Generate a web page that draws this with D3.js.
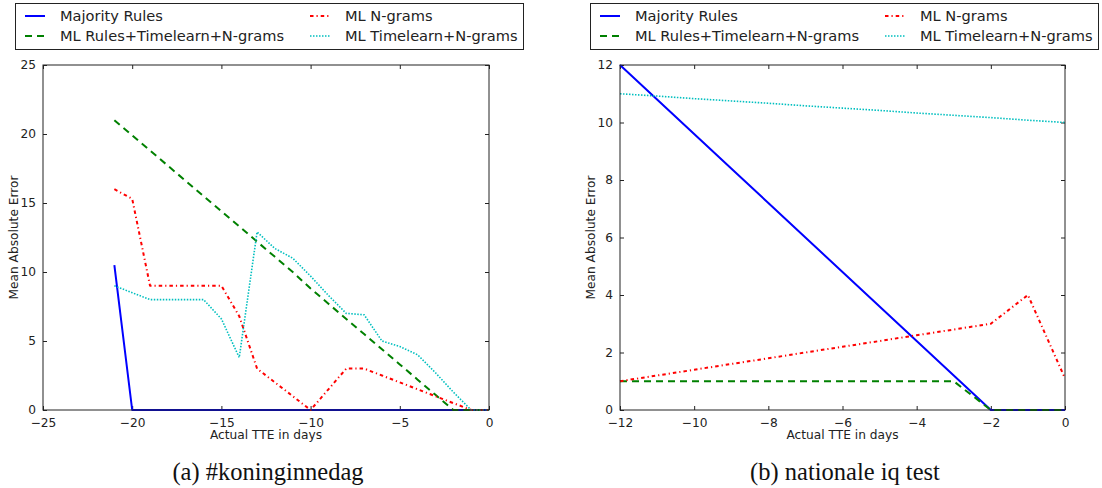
<!DOCTYPE html>
<html>
<head>
<meta charset="utf-8">
<script src="https://cdn.jsdelivr.net/npm/d3@7"></script>
<style>
  body { margin: 0; background: #fff; }
  svg { display: block; font-family: "DejaVu Sans", sans-serif; }
</style>
</head>
<body>
<div id="chart"></div>
<script>
// Series names (legend order)
const seriesNames = ["Majority Rules", "ML Rules+Timelearn+N-grams", "ML N-grams", "ML Timelearn+N-grams"];

// Panel (a) #koninginnedag
const leftDays = [-21, -20, -19, -18, -17, -16, -15, -14, -13, -12, -11, -10, -9, -8, -7, -6, -5, -4, -3, -2, -1, 0];
const leftMajority = [10.5, 0, 0, 0, 0, 0, 0, 0, 0, 0, 0, 0, 0, 0, 0, 0, 0, 0, 0, 0, 0, 0];
const leftRulesTime = [21, 19.9, 18.8, 17.7, 16.6, 15.5, 14.4, 13.3, 12.2, 11.1, 10, 8.8, 7.7, 6.6, 5.5, 4.4, 3.3, 2.2, 1.1, 0, 0, 0];
const leftNgrams = [16, 15.3, 9, 9, 9, 9, 9, 6.8, 3, 2, 1, 0, 1.5, 3, 3, 2.5, 2, 1.5, 1, 0.5, 0, 0];
const leftTimelearn = [9, 8.5, 8, 8, 8, 8, 6.6, 3.8, 12.9, 11.7, 11, 9.7, 8.3, 7, 6.9, 5, 4.6, 4, 2.7, 1.3, 0, 0];
const leftXTicks = [-25, -20, -15, -10, -5, 0];
const leftYTicks = [0, 5, 10, 15, 20, 25];

// Panel (b) nationale iq test
const rightDays = [-12, -11, -10, -9, -8, -7, -6, -5, -4, -3, -2, -1, 0];
const rightMajority = [12, 10.8, 9.6, 8.4, 7.2, 6, 4.8, 3.6, 2.4, 1.2, 0, 0, 0];
const rightRulesTime = [1, 1, 1, 1, 1, 1, 1, 1, 1, 1, 0, 0, 0];
const rightNgrams = [1, 1.2, 1.4, 1.6, 1.8, 2, 2.2, 2.4, 2.6, 2.8, 3, 4, 1.1];
const rightTimelearn = [11, 10.92, 10.83, 10.75, 10.67, 10.58, 10.5, 10.42, 10.33, 10.25, 10.17, 10.08, 10];
const rightXTicks = [-12, -10, -8, -6, -4, -2, 0];
const rightYTicks = [0, 2, 4, 6, 8, 10, 12];

// Line styles, matplotlib classic colours
const styles = [
  { color: "#0000ff", dash: null, width: 2 },
  { color: "#008000", dash: "7,5", width: 2 },
  { color: "#ff0000", dash: "3.5,3,1.2,3", width: 2 },
  { color: "#00bfbf", dash: "1.5,1.5", width: 1.6 }
];

const width = 1102;
const height = 488;

const svg = d3.select("#chart")
  .append("svg")
  .attr("width", width)
  .attr("height", height);

function drawPanel(p) {
  const g = svg.append("g");

  const x = d3.scaleLinear().domain(p.xDomain).range([p.left, p.right]);
  const y = d3.scaleLinear().domain(p.yDomain).range([p.bottom, p.top]);

  // Tick marks inside on all four sides
  g.append("g")
    .attr("transform", `translate(0,${p.bottom})`)
    .call(d3.axisBottom(x).tickValues(p.xTicks).tickSize(-4).tickPadding(8).tickFormat(d3.format("d")))
    .call(s => s.select(".domain").remove());
  g.append("g")
    .attr("transform", `translate(0,${p.top})`)
    .call(d3.axisTop(x).tickValues(p.xTicks).tickSize(-4).tickFormat(""))
    .call(s => s.select(".domain").remove());
  g.append("g")
    .attr("transform", `translate(${p.left},0)`)
    .call(d3.axisLeft(y).tickValues(p.yTicks).tickSize(-4).tickPadding(7).tickFormat(d3.format("d")))
    .call(s => s.select(".domain").remove());
  g.append("g")
    .attr("transform", `translate(${p.right},0)`)
    .call(d3.axisRight(y).tickValues(p.yTicks).tickSize(-4).tickFormat(""))
    .call(s => s.select(".domain").remove());

  g.selectAll(".tick line").attr("stroke", "#222");
  g.selectAll(".tick text")
    .attr("fill", "#222")
    .style("font-size", "12.2px")
    .style("font-family", "DejaVu Sans, sans-serif");

  // Lines
  const line = d3.line()
    .x((d, i) => x(p.days[i]))
    .y(d => y(d));

  p.series.forEach(function(vals, k) {
    g.append("path")
      .datum(vals)
      .attr("d", line)
      .attr("fill", "none")
      .attr("stroke", styles[k].color)
      .attr("stroke-width", styles[k].width)
      .attr("stroke-dasharray", styles[k].dash)
      .attr("stroke-linejoin", "round");
  });

  // Frame
  g.append("rect")
    .attr("x", p.left)
    .attr("y", p.top)
    .attr("width", p.right - p.left)
    .attr("height", p.bottom - p.top)
    .attr("fill", "none")
    .attr("stroke", "#222")
    .attr("stroke-width", 1);

  // Axis labels
  g.append("text")
    .attr("x", (p.left + p.right) / 2)
    .attr("y", p.bottom + 29)
    .attr("text-anchor", "middle")
    .style("font-size", "12.2px")
    .attr("fill", "#222")
    .text("Actual TTE in days");

  g.append("text")
    .attr("transform", `translate(${p.left - 25},${(p.top + p.bottom) / 2}) rotate(-90)`)
    .attr("text-anchor", "middle")
    .style("font-size", "12.2px")
    .attr("fill", "#222")
    .text("Mean Absolute Error");

  // Legend box above the axes
  const lg = g.append("g").attr("transform", `translate(${p.legendX},3)`);
  lg.append("rect")
    .attr("x", 0.5)
    .attr("y", 0.5)
    .attr("width", 508)
    .attr("height", 46)
    .attr("fill", "#fff")
    .attr("stroke", "#222");

  const cols = [0, 0, 1, 1];
  const rows = [0, 1, 0, 1];
  seriesNames.forEach(function(name, k) {
    const cx = 10 + cols[k] * 285;
    const cy = 13 + rows[k] * 20;
    lg.append("line")
      .attr("x1", cx)
      .attr("x2", cx + 20)
      .attr("y1", cy)
      .attr("y2", cy)
      .attr("stroke", styles[k].color)
      .attr("stroke-width", styles[k].width)
      .attr("stroke-dasharray", styles[k].dash);
    lg.append("text")
      .attr("x", cx + 35)
      .attr("y", cy)
      .attr("dy", "0.35em")
      .style("font-size", "14.6px")
      .attr("fill", "#222")
      .text(name);
  });

  // Caption
  svg.append("text")
    .attr("x", p.captionX)
    .attr("y", 480)
    .attr("text-anchor", "middle")
    .style("font-family", "Liberation Serif, DejaVu Serif, serif")
    .style("font-size", "24.5px")
    .attr("fill", "#111")
    .text(p.caption);
}

drawPanel({
  days: leftDays,
  series: [leftMajority, leftRulesTime, leftNgrams, leftTimelearn],
  xDomain: [-25, 0], yDomain: [0, 25],
  xTicks: leftXTicks, yTicks: leftYTicks,
  left: 43, right: 489, top: 65, bottom: 410,
  legendX: 15,
  captionX: 268, caption: "(a) #koninginnedag"
});

drawPanel({
  days: rightDays,
  series: [rightMajority, rightRulesTime, rightNgrams, rightTimelearn],
  xDomain: [-12, 0], yDomain: [0, 12],
  xTicks: rightXTicks, yTicks: rightYTicks,
  left: 620, right: 1065, top: 65, bottom: 410,
  legendX: 590,
  captionX: 845, caption: "(b) nationale iq test"
});
</script>
</body>
</html>
